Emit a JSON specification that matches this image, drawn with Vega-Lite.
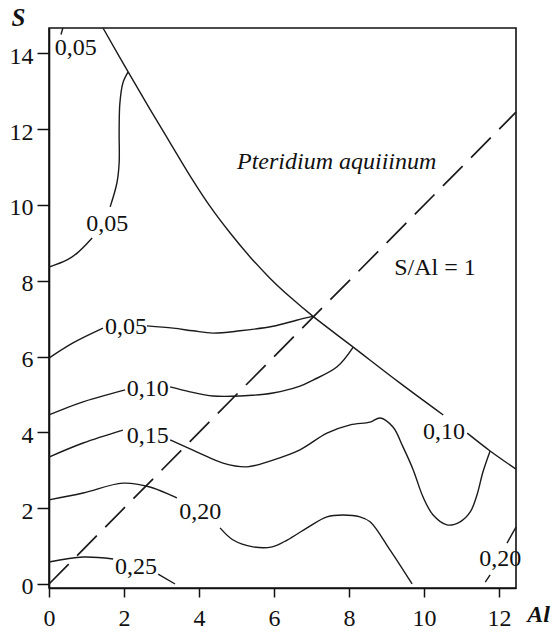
{
  "$schema": "https://vega.github.io/schema/vega-lite/v6.json",
  "width": 467,
  "height": 560,
  "autosize": "none",
  "padding": {"left": 49, "top": 28, "right": 37, "bottom": 45},
  "background": "white",
  "config": {"view": {"stroke": "#111", "strokeWidth": 1.6}, "font": "Liberation Serif"},
  "datasets": {
    "lines": [
      {"seg": "b1", "i": 1, "x": 1.44, "y": 14.67},
      {"seg": "b1", "i": 2, "x": 2.11, "y": 13.51},
      {"seg": "b1", "i": 3, "x": 2.69, "y": 12.53},
      {"seg": "b1", "i": 4, "x": 3.23, "y": 11.64},
      {"seg": "b1", "i": 5, "x": 3.76, "y": 10.77},
      {"seg": "b1", "i": 6, "x": 4.29, "y": 9.97},
      {"seg": "b1", "i": 7, "x": 4.83, "y": 9.26},
      {"seg": "b1", "i": 8, "x": 5.36, "y": 8.63},
      {"seg": "b1", "i": 9, "x": 5.89, "y": 8.07},
      {"seg": "b1", "i": 10, "x": 6.43, "y": 7.57},
      {"seg": "b1", "i": 11, "x": 7.04, "y": 7.06},
      {"seg": "b1", "i": 12, "x": 8.11, "y": 6.25},
      {"seg": "b1", "i": 13, "x": 9.36, "y": 5.3},
      {"seg": "b1", "i": 14, "x": 10.51, "y": 4.46},
      {"seg": "b2", "i": 1, "x": 11.15, "y": 3.98},
      {"seg": "b2", "i": 2, "x": 11.76, "y": 3.51},
      {"seg": "b2", "i": 3, "x": 12.45, "y": 3.03},
      {"seg": "c05top", "i": 1, "x": 0.37, "y": 14.67},
      {"seg": "c05top", "i": 2, "x": 0.32, "y": 14.5},
      {"seg": "c05a", "i": 1, "x": 2.11, "y": 13.51},
      {"seg": "c05a", "i": 2, "x": 1.97, "y": 13.22},
      {"seg": "c05a", "i": 3, "x": 1.89, "y": 12.69},
      {"seg": "c05a", "i": 4, "x": 1.87, "y": 11.98},
      {"seg": "c05a", "i": 5, "x": 1.87, "y": 11.11},
      {"seg": "c05a", "i": 6, "x": 1.81, "y": 10.58},
      {"seg": "c05a", "i": 7, "x": 1.63, "y": 9.95},
      {"seg": "c05b", "i": 1, "x": 1.15, "y": 9.13},
      {"seg": "c05b", "i": 2, "x": 0.75, "y": 8.73},
      {"seg": "c05b", "i": 3, "x": 0.48, "y": 8.55},
      {"seg": "c05b", "i": 4, "x": 0, "y": 8.36},
      {"seg": "c05c", "i": 1, "x": 0, "y": 5.96},
      {"seg": "c05c", "i": 2, "x": 0.64, "y": 6.36},
      {"seg": "c05c", "i": 3, "x": 1.44, "y": 6.75},
      {"seg": "c05d", "i": 1, "x": 2.61, "y": 6.81},
      {"seg": "c05d", "i": 2, "x": 3.31, "y": 6.75},
      {"seg": "c05d", "i": 3, "x": 3.84, "y": 6.68},
      {"seg": "c05d", "i": 4, "x": 4.37, "y": 6.62},
      {"seg": "c05d", "i": 5, "x": 5.09, "y": 6.68},
      {"seg": "c05d", "i": 6, "x": 5.97, "y": 6.8},
      {"seg": "c05d", "i": 7, "x": 6.6, "y": 6.96},
      {"seg": "c05d", "i": 8, "x": 7.04, "y": 7.06},
      {"seg": "c10a", "i": 1, "x": 0, "y": 4.46},
      {"seg": "c10a", "i": 2, "x": 0.83, "y": 4.78},
      {"seg": "c10a", "i": 3, "x": 2.03, "y": 5.12},
      {"seg": "c10b", "i": 1, "x": 3.23, "y": 5.2},
      {"seg": "c10b", "i": 2, "x": 3.76, "y": 5.07},
      {"seg": "c10b", "i": 3, "x": 4.37, "y": 4.96},
      {"seg": "c10b", "i": 4, "x": 5.09, "y": 4.96},
      {"seg": "c10b", "i": 5, "x": 5.97, "y": 5.04},
      {"seg": "c10b", "i": 6, "x": 6.69, "y": 5.22},
      {"seg": "c10b", "i": 7, "x": 7.04, "y": 5.38},
      {"seg": "c10b", "i": 8, "x": 7.68, "y": 5.73},
      {"seg": "c10b", "i": 9, "x": 8.11, "y": 6.25},
      {"seg": "c15a", "i": 1, "x": 0, "y": 3.35},
      {"seg": "c15a", "i": 2, "x": 0.91, "y": 3.72},
      {"seg": "c15a", "i": 3, "x": 1.97, "y": 4.06},
      {"seg": "c15b", "i": 1, "x": 3.23, "y": 3.8},
      {"seg": "c15b", "i": 2, "x": 3.95, "y": 3.48},
      {"seg": "c15b", "i": 3, "x": 4.64, "y": 3.19},
      {"seg": "c15b", "i": 4, "x": 5.28, "y": 3.09},
      {"seg": "c15b", "i": 5, "x": 5.97, "y": 3.27},
      {"seg": "c15b", "i": 6, "x": 6.69, "y": 3.54},
      {"seg": "c15b", "i": 7, "x": 7.41, "y": 3.98},
      {"seg": "c15b", "i": 8, "x": 8.03, "y": 4.2},
      {"seg": "c15b", "i": 9, "x": 8.56, "y": 4.27},
      {"seg": "c15b", "i": 10, "x": 8.83, "y": 4.38},
      {"seg": "c15b", "i": 11, "x": 9.17, "y": 4.14},
      {"seg": "c15b", "i": 12, "x": 9.44, "y": 3.61},
      {"seg": "c15b", "i": 13, "x": 9.71, "y": 3.01},
      {"seg": "c15b", "i": 14, "x": 9.97, "y": 2.3},
      {"seg": "c15b", "i": 15, "x": 10.24, "y": 1.82},
      {"seg": "c15b", "i": 16, "x": 10.61, "y": 1.56},
      {"seg": "c15b", "i": 17, "x": 10.96, "y": 1.64},
      {"seg": "c15b", "i": 18, "x": 11.23, "y": 1.9},
      {"seg": "c15b", "i": 19, "x": 11.41, "y": 2.35},
      {"seg": "c15b", "i": 20, "x": 11.57, "y": 2.96},
      {"seg": "c15b", "i": 21, "x": 11.76, "y": 3.51},
      {"seg": "c20a", "i": 1, "x": 0, "y": 2.22},
      {"seg": "c20a", "i": 2, "x": 0.91, "y": 2.4},
      {"seg": "c20a", "i": 3, "x": 1.97, "y": 2.66},
      {"seg": "c20a", "i": 4, "x": 2.69, "y": 2.56},
      {"seg": "c20a", "i": 5, "x": 3.41, "y": 2.27},
      {"seg": "c20b", "i": 1, "x": 4.56, "y": 1.48},
      {"seg": "c20b", "i": 2, "x": 4.91, "y": 1.16},
      {"seg": "c20b", "i": 3, "x": 5.44, "y": 0.98},
      {"seg": "c20b", "i": 4, "x": 5.95, "y": 0.98},
      {"seg": "c20b", "i": 5, "x": 6.35, "y": 1.16},
      {"seg": "c20b", "i": 6, "x": 6.88, "y": 1.48},
      {"seg": "c20b", "i": 7, "x": 7.41, "y": 1.77},
      {"seg": "c20b", "i": 8, "x": 7.84, "y": 1.82},
      {"seg": "c20b", "i": 9, "x": 8.29, "y": 1.77},
      {"seg": "c20b", "i": 10, "x": 8.56, "y": 1.64},
      {"seg": "c20b", "i": 11, "x": 9.09, "y": 0.9},
      {"seg": "c20b", "i": 12, "x": 9.68, "y": 0},
      {"seg": "c25a", "i": 1, "x": 0, "y": 0.58},
      {"seg": "c25a", "i": 2, "x": 0.91, "y": 0.71},
      {"seg": "c25a", "i": 3, "x": 1.71, "y": 0.66},
      {"seg": "c25b", "i": 1, "x": 2.91, "y": 0.26},
      {"seg": "c25b", "i": 2, "x": 3.36, "y": 0},
      {"seg": "c20c", "i": 1, "x": 12.45, "y": 1.5},
      {"seg": "c20c", "i": 2, "x": 12.21, "y": 1.08},
      {"seg": "c20d", "i": 1, "x": 11.76, "y": 0.24},
      {"seg": "c20d", "i": 2, "x": 11.63, "y": 0.05}
    ],
    "ratio": [
      {"x": 0, "y": 0},
      {"x": 12.45, "y": 12.45}
    ],
    "labels": [
      {"x": 0.71, "y": 14.14, "text": "0,05"},
      {"x": 1.55, "y": 9.51, "text": "0,05"},
      {"x": 2.05, "y": 6.77, "text": "0,05"},
      {"x": 2.63, "y": 5.15, "text": "0,10"},
      {"x": 2.63, "y": 3.91, "text": "0,15"},
      {"x": 4.03, "y": 1.89, "text": "0,20"},
      {"x": 2.32, "y": 0.46, "text": "0,25"},
      {"x": 10.53, "y": 4.02, "text": "0,10"},
      {"x": 12.03, "y": 0.66, "text": "0,20"},
      {"x": 10.29, "y": 8.34, "text": "S/Al = 1"}
    ],
    "species": [
      {"x": 7.67, "y": 11.13, "text": "Pteridium aquiiinum"}
    ]
  },
  "layer": [
    {
      "data": {"name": "lines"},
      "mark": {"type": "line", "interpolate": "catmull-rom", "stroke": "#1a1a1a", "strokeWidth": 1.4},
      "encoding": {
        "x": {
          "field": "x", "type": "quantitative",
          "scale": {"domain": [0, 12.45], "nice": false, "zero": false},
          "axis": {
            "values": [0, 1, 2, 3, 4, 5, 6, 7, 8, 9, 10, 11, 12],
            "labelExpr": "datum.value % 2 == 0 ? datum.label : ''",
            "grid": false, "tickSize": 9, "tickWidth": 1.5, "tickColor": "#111",
            "domainColor": "#111", "domainWidth": 1.6,
            "labelFont": "Liberation Serif", "labelFontSize": 24, "labelColor": "#111",
            "labelPadding": 9, "labelFlush": false, "labelOverlap": false,
            "title": "Al", "titleFont": "Liberation Serif", "titleFontSize": 24,
            "titleFontStyle": "italic", "titleFontWeight": "bold", "titleColor": "#111",
            "titleX": 489, "titleY": 26, "titleAlign": "center", "titleBaseline": "middle"
          }
        },
        "y": {
          "field": "y", "type": "quantitative",
          "scale": {"domain": [-0.106, 14.67], "nice": false, "zero": false},
          "axis": {
            "values": [0, 1, 2, 3, 4, 5, 6, 7, 8, 9, 10, 11, 12, 13, 14],
            "labelExpr": "datum.value % 2 == 0 ? datum.label : ''",
            "grid": false, "tickSize": 12, "tickWidth": 1.5, "tickColor": "#111",
            "domainColor": "#111", "domainWidth": 1.6,
            "labelFont": "Liberation Serif", "labelFontSize": 24, "labelColor": "#111",
            "labelPadding": 4, "labelOffset": 3, "labelFlush": false, "labelOverlap": false,
            "title": "S", "titleFont": "Liberation Serif", "titleFontSize": 25,
            "titleFontStyle": "italic", "titleFontWeight": "bold", "titleColor": "#111",
            "titleAngle": 0, "titleX": -31, "titleY": -11, "titleAlign": "center", "titleBaseline": "middle"
          }
        },
        "detail": {"field": "seg", "type": "nominal"},
        "order": {"field": "i", "type": "quantitative"}
      }
    },
    {
      "data": {"name": "ratio"},
      "mark": {"type": "line", "stroke": "#1a1a1a", "strokeWidth": 1.7, "strokeDash": [28, 12]},
      "encoding": {
        "x": {"field": "x", "type": "quantitative"},
        "y": {"field": "y", "type": "quantitative"}
      }
    },
    {
      "data": {"name": "labels"},
      "mark": {"type": "text", "font": "Liberation Serif", "fontSize": 24, "color": "#111", "align": "center", "baseline": "middle"},
      "encoding": {
        "x": {"field": "x", "type": "quantitative"},
        "y": {"field": "y", "type": "quantitative"},
        "text": {"field": "text", "type": "nominal"}
      }
    },
    {
      "data": {"name": "species"},
      "mark": {"type": "text", "font": "Liberation Serif", "fontSize": 24, "fontStyle": "italic", "color": "#111", "align": "center", "baseline": "middle"},
      "encoding": {
        "x": {"field": "x", "type": "quantitative"},
        "y": {"field": "y", "type": "quantitative"},
        "text": {"field": "text", "type": "nominal"}
      }
    }
  ]
}
